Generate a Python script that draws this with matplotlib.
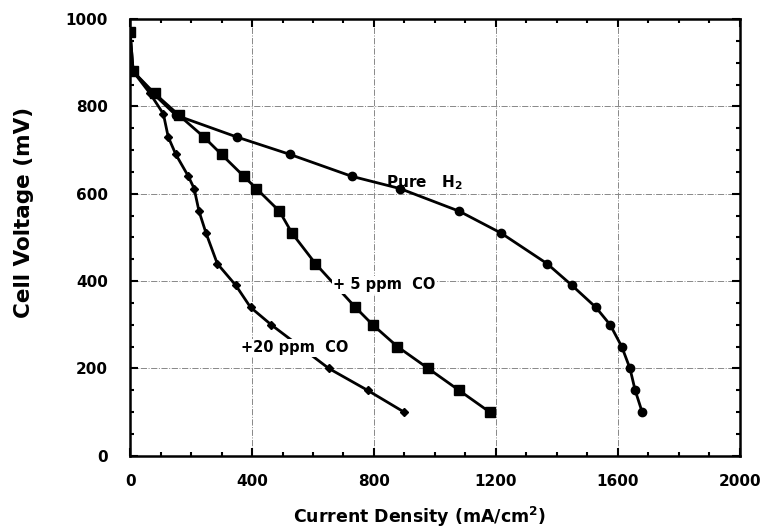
import numpy as np
import matplotlib.pyplot as plt
from matplotlib.ticker import MultipleLocator

# Datos
voltaje_h2 = [970, 880, 830, 780, 730, 690, 640, 612, 560, 510, 440, 390, 340, 300, 250, 200, 150, 100]
corriente_h2 = [0, 10, 75, 150, 350, 525, 727, 885, 1080, 1217, 1368, 1450, 1528, 1575, 1613, 1640, 1657, 1680]

voltaje_5co = [970, 880, 830, 780, 730, 690, 640, 612, 560, 510, 440, 340, 300, 250, 200, 150, 100]
corriente_5co = [0, 10, 80, 160, 242, 300, 373, 414, 490, 531, 608, 739, 796, 877, 978, 1079, 1180]

voltaje_20co = [880, 830, 783, 730, 690, 640, 612, 560, 510, 440, 390, 340, 300, 200, 150, 100]
corriente_20co = [10, 65, 109, 125, 150, 191, 210, 226, 249, 286, 347, 395, 463, 652, 779, 899]

plt.rcParams['font.family'] = ['DejaVu Sans']
plt.rcParams['font.weight'] = 'bold'

fig = plt.figure(figsize=(7.61, 5.30), dpi=100)
ax = fig.add_axes([0.171, 0.140, 0.801, 0.824])

ax.plot(corriente_h2, voltaje_h2, color='black', lw=2, marker='o', ms=6, zorder=3)
ax.plot(corriente_5co, voltaje_5co, color='black', lw=2, marker='s', ms=7, zorder=3)
ax.plot(corriente_20co, voltaje_20co, color='black', lw=2, marker='D', ms=4, zorder=3)

ax.text(965, 626, 'Pure   H$_\\mathbf{2}$', fontsize=11, ha='center', va='center', fontweight='bold')
ax.text(834, 392, '+ 5 ppm  CO', fontsize=10.5, ha='center', va='center', fontweight='bold',
        bbox=dict(facecolor='white', edgecolor='none', pad=1), zorder=4)
ax.text(540, 247, '+20 ppm  CO', fontsize=10.5, ha='center', va='center', fontweight='bold',
        bbox=dict(facecolor='white', edgecolor='none', pad=1), zorder=4)

ax.set_xlim(0, 2000)
ax.set_ylim(0, 1000)
ax.xaxis.set_major_locator(MultipleLocator(400))
ax.xaxis.set_minor_locator(MultipleLocator(100))
ax.yaxis.set_major_locator(MultipleLocator(200))
ax.yaxis.set_minor_locator(MultipleLocator(50))
ax.tick_params(which='both', direction='in', top=True, right=True, labelsize=11, width=1.5)
ax.tick_params(which='major', length=6)
ax.tick_params(which='minor', length=3)
ax.tick_params(axis='x', pad=13)
ax.tick_params(axis='y', pad=16)
for s in ax.spines.values():
    s.set_linewidth(1.8)

ax.grid(True, which='major', color='#888888', linestyle='-.', linewidth=0.7)

ax.set_xlabel('Current Density (mA/cm$^\\mathbf{2}$)', fontsize=12.5, fontweight='bold')
ax.set_ylabel('Cell Voltage (mV)', fontsize=15.5, fontweight='bold')
ax.xaxis.set_label_coords(0.475, -0.112)
ax.yaxis.set_label_coords(-0.158, 0.558)

plt.savefig('out.png', dpi=100)
